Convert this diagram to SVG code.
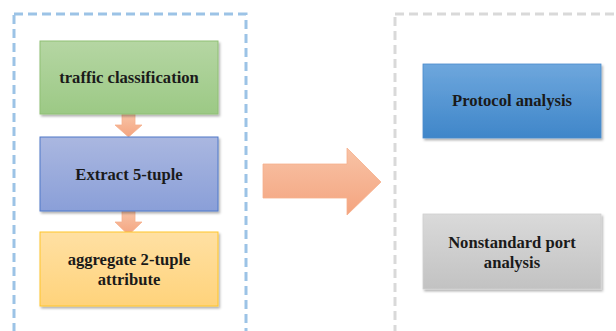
<svg xmlns="http://www.w3.org/2000/svg" width="616" height="331" viewBox="0 0 616 331">
<defs>
<linearGradient id="gGreen" x1="0" y1="0" x2="0" y2="1"><stop offset="0" stop-color="#b5d6a3"/><stop offset="1" stop-color="#9cc985"/></linearGradient>
<linearGradient id="gBlue" x1="0" y1="0" x2="0" y2="1"><stop offset="0" stop-color="#aab7e0"/><stop offset="1" stop-color="#8a9fd8"/></linearGradient>
<linearGradient id="gYellow" x1="0" y1="0" x2="0" y2="1"><stop offset="0" stop-color="#ffe0a3"/><stop offset="1" stop-color="#ffd37b"/></linearGradient>
<linearGradient id="gProto" x1="0" y1="0" x2="0" y2="1"><stop offset="0" stop-color="#6ea7dd"/><stop offset="1" stop-color="#3f86c9"/></linearGradient>
<linearGradient id="gGray" x1="0" y1="0" x2="0" y2="1"><stop offset="0" stop-color="#dadada"/><stop offset="1" stop-color="#c2c2c2"/></linearGradient>
<linearGradient id="gArrow" x1="0" y1="0" x2="0" y2="1"><stop offset="0" stop-color="#f8c3a6"/><stop offset="1" stop-color="#f4a47f"/></linearGradient>
<filter id="sh" x="-10%" y="-10%" width="130%" height="140%"><feDropShadow dx="1.5" dy="2" stdDeviation="1.2" flood-color="#000" flood-opacity="0.3"/></filter>
</defs>
<style>
text{font-family:"Liberation Serif","DejaVu Serif",serif;font-weight:bold;font-size:16.6px;fill:#1a1a1a;text-anchor:middle}
.frame{fill:none;stroke-width:3;stroke-dasharray:9 5}
.box{filter:url(#sh)}
.arrow{fill:url(#gArrow);stroke:#f6b08d;stroke-width:0.8}
</style>
<rect class="frame" x="14" y="14" width="232" height="340" stroke="#9cc3e6"/>
<rect class="frame" x="395" y="14" width="240" height="340" stroke="#d9d9d9" stroke-width="2.5"/>
<g id="connectors">
<path class="arrow" d="M122,114 H135 V125 H142 L128.5,137 L115,125 H122 Z"/>
<path class="arrow" d="M122,211 H135 V222 H142 L128.5,235 L115,222 H122 Z"/>
<path class="arrow" d="M263,164 H347 V148 L381,182 L347,215 V198 H263 Z"/>
</g>
<g id="traffic">
<rect class="box" x="40" y="41" width="178" height="73" fill="url(#gGreen)" stroke="#8fbf74" stroke-width="1"/>
<text x="129" y="83">traffic classification</text>
</g>
<g id="extract">
<rect class="box" x="40" y="137" width="178" height="74" fill="url(#gBlue)" stroke="#4f78c8" stroke-width="1"/>
<text x="129" y="180">Extract 5-tuple</text>
</g>
<g id="aggregate">
<rect class="box" x="40" y="232" width="178" height="74" fill="url(#gYellow)" stroke="#ffc52a" stroke-width="1"/>
<text x="129" y="265">aggregate 2-tuple</text>
<text x="129" y="285">attribute</text>
</g>
<g id="protocol">
<rect class="box" x="423" y="64" width="178" height="74" fill="url(#gProto)" stroke="#4a8ccd" stroke-width="0.8"/>
<text x="512" y="106">Protocol analysis</text>
</g>
<g id="nonstandard">
<rect class="box" x="423" y="214" width="178" height="75" fill="url(#gGray)" stroke="#d0d0d0" stroke-width="0.8"/>
<text x="512" y="248">Nonstandard port</text>
<text x="512" y="268">analysis</text>
</g>
</svg>
